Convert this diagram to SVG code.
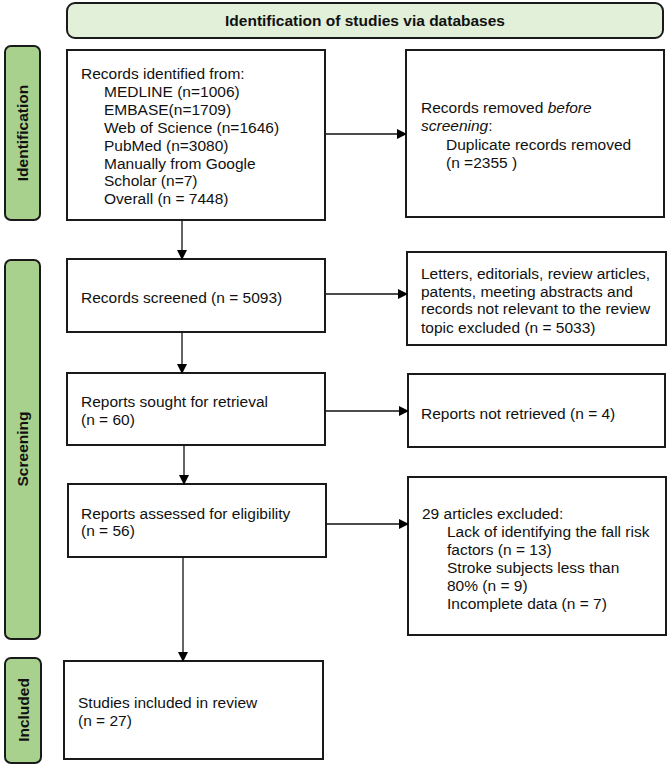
<svg xmlns="http://www.w3.org/2000/svg" width="671" height="766" viewBox="0 0 671 766">
<defs>
<marker id="ah" markerWidth="10" markerHeight="10" refX="9" refY="5" orient="auto" markerUnits="userSpaceOnUse">
<path d="M0,0 L10,5 L0,10 z" fill="#000"/>
</marker>
<style>
.box{fill:#fff;stroke:#1a1a1a;stroke-width:2}
.lab{fill:#a9d18e;stroke:#1a1a1a;stroke-width:2}
.ban{fill:#e2f0d9;stroke:#1a1a1a;stroke-width:2}
.t{font-family:"Liberation Sans",Arial,sans-serif;font-size:15.5px;fill:#111}
.b{font-family:"Liberation Sans",Arial,sans-serif;font-size:15.5px;font-weight:bold;fill:#111}
.c{stroke:#111;stroke-width:1.3;fill:none;marker-end:url(#ah)}
</style>
</defs>
<g id="banner">
<rect class="ban" x="67" y="3" width="596" height="35" rx="8"/>
<text class="b" x="365" y="26" text-anchor="middle">Identification of studies via databases</text>
</g>
<g id="label-identification">
<rect class="lab" x="5" y="46" width="35" height="174" rx="6"/>
<text class="b" transform="translate(28,133) rotate(-90)" text-anchor="middle">Identification</text>
</g>
<g id="label-screening">
<rect class="lab" x="5" y="260" width="35" height="379" rx="6"/>
<text class="b" transform="translate(28,449) rotate(-90)" text-anchor="middle">Screening</text>
</g>
<g id="label-included">
<rect class="lab" x="5" y="658" width="36" height="105" rx="6"/>
<text class="b" transform="translate(29,710) rotate(-90)" text-anchor="middle">Included</text>
</g>
<g id="identified">
<rect class="box" x="67" y="50" width="258" height="170"/>
<text class="t" x="81" y="79">Records identified from:</text>
<text class="t" x="104" y="97">MEDLINE (n=1006)</text>
<text class="t" x="104" y="115">EMBASE(n=1709)</text>
<text class="t" x="104" y="132.5">Web of Science (n=1646)</text>
<text class="t" x="104" y="150.5">PubMed (n=3080)</text>
<text class="t" x="104" y="168.5">Manually from Google</text>
<text class="t" x="104" y="186">Scholar (n=7)</text>
<text class="t" x="104" y="204">Overall (n = 7448)</text>
</g>
<g id="removed">
<rect class="box" x="406" y="50" width="258" height="167"/>
<text class="t" x="421" y="112.5">Records removed <tspan font-style="italic">before</tspan></text>
<text class="t" x="421" y="131"><tspan font-style="italic">screening</tspan>:</text>
<text class="t" x="446" y="149.5">Duplicate records removed</text>
<text class="t" x="446" y="167.5">(n =2355 )</text>
</g>
<g id="screened">
<rect class="box" x="67" y="259" width="258" height="73"/>
<text class="t" x="81" y="302.5">Records screened (n = 5093)</text>
</g>
<g id="excluded1">
<rect class="box" x="407" y="252" width="259" height="93"/>
<text class="t" x="421" y="278.5">Letters, editorials, review articles,</text>
<text class="t" x="421" y="296.5">patents, meeting abstracts and</text>
<text class="t" x="421" y="314">records not relevant to the review</text>
<text class="t" x="421" y="332.5">topic excluded (n = 5033)</text>
</g>
<g id="sought">
<rect class="box" x="67" y="373" width="258" height="72"/>
<text class="t" x="81" y="406.5">Reports sought for retrieval</text>
<text class="t" x="81" y="425">(n = 60)</text>
</g>
<g id="notretrieved">
<rect class="box" x="408" y="374" width="257" height="73"/>
<text class="t" x="421" y="418.5">Reports not retrieved (n = 4)</text>
</g>
<g id="assessed">
<rect class="box" x="68" y="484" width="258" height="73"/>
<text class="t" x="81" y="518.5">Reports assessed for eligibility</text>
<text class="t" x="81" y="536">(n = 56)</text>
</g>
<g id="excluded2">
<rect class="box" x="408" y="477" width="258" height="158"/>
<text class="t" x="422" y="518.5">29 articles excluded:</text>
<text class="t" x="447" y="537">Lack of identifying the fall risk</text>
<text class="t" x="447" y="555">factors (n = 13)</text>
<text class="t" x="447" y="573">Stroke subjects less than</text>
<text class="t" x="447" y="591">80% (n = 9)</text>
<text class="t" x="447" y="609">Incomplete data (n = 7)</text>
</g>
<g id="included">
<rect class="box" x="64" y="661" width="259" height="98"/>
<text class="t" x="78" y="707.5">Studies included in review</text>
<text class="t" x="78" y="725.5">(n = 27)</text>
</g>
<g id="connectors">
<line class="c" x1="326" y1="134" x2="406" y2="134"/>
<line class="c" x1="182" y1="221" x2="182" y2="259"/>
<line class="c" x1="326" y1="294" x2="407" y2="294"/>
<line class="c" x1="182" y1="333" x2="182" y2="373"/>
<line class="c" x1="326" y1="411" x2="408" y2="411"/>
<line class="c" x1="184" y1="446" x2="184" y2="484"/>
<line class="c" x1="327" y1="524" x2="408" y2="524"/>
<line class="c" x1="183" y1="558" x2="183" y2="661"/>
</g>
</svg>
